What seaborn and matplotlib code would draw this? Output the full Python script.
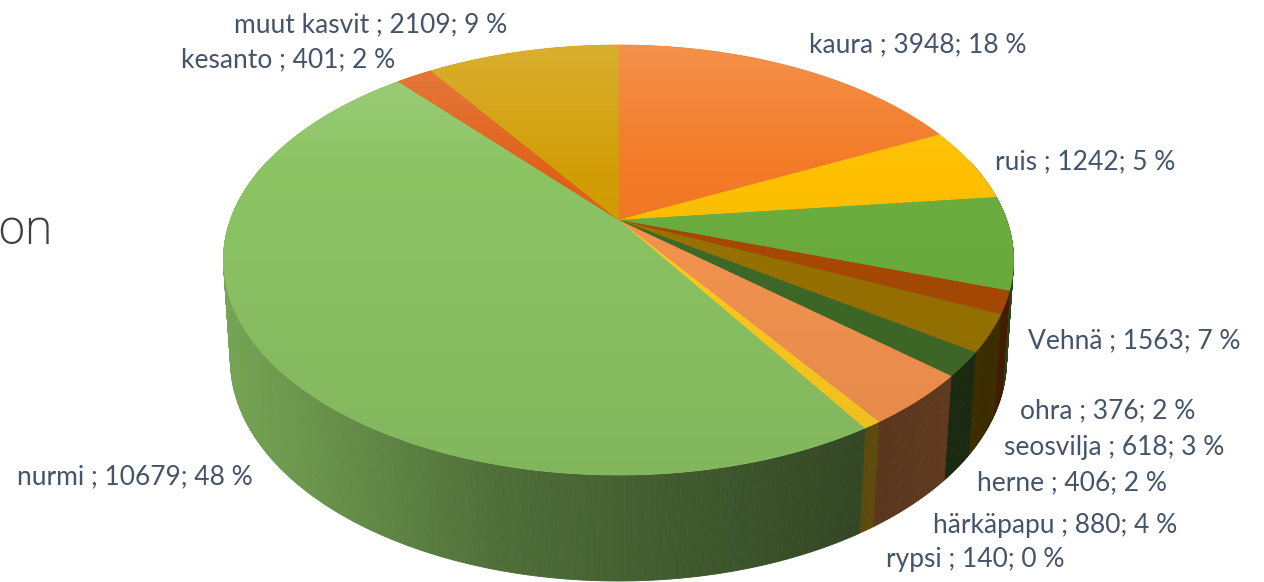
import numpy as np
import seaborn as sns
import matplotlib.pyplot as plt
from matplotlib.collections import PolyCollection
from matplotlib.patches import Polygon

sns.set_theme(style="white")
plt.rcParams["font.family"] = ["Lato", "DejaVu Sans"]

# Data
crops = ["kaura", "ruis", "Vehnä", "ohra", "seosvilja", "herne",
         "härkäpapu", "rypsi", "nurmi", "kesanto", "muut kasvit"]
hectares = [3948, 1242, 1563, 376, 618, 406, 880, 140, 10679, 401, 2109]
shares = [18, 5, 7, 2, 3, 2, 4, 0, 48, 2, 9]
colors = ["#F37A26", "#FFC000", "#6CAE3E", "#A84A05", "#997300", "#3F6A28",
          "#F59450", "#FFCD20", "#8CC464", "#E0621A", "#D29E06"]
label_x = [918, 1085, 1134, 1108, 1114, 1072, 1055, 975, 135, 288, 371]
label_y = [45, 162, 341, 411, 447, 483, 525, 559, 477, 60, 25]


def project(x, y, cx, top, bottom, apex, half_width):
    # perspective view of the unit disc: centre goes to apex, rim to an ellipse
    c = (bottom + top - 2 * apex) / (bottom - top)
    a = top * (1 + c) - apex
    d = half_width * np.sqrt(1 - c ** 2)
    w = 1 + c * y
    return cx + d * x / w, (a * y + apex) / w


def top_view(x, y):
    return project(x, y, 618.5, 45, 475, 220, 395)


def bottom_view(x, y):
    return project(x, y, 618.5, 139, 581, 320, 388)


def top_colors(col, y):
    # lighter towards the back of the pie, slightly darker at the front
    lift = np.interp(y, [45, 170], [0.17, 0.0])[:, None, None]
    dark = np.interp(y, [170, 475], [1.0, 0.93])[:, None, None]
    rgb = np.array(col)[None, None, :]
    return np.clip((rgb + (1 - rgb) * lift) * dark, 0, 1)


def wall_shade(x):
    return np.interp(x, [224, 500, 860, 1015], [0.84, 0.56, 0.36, 0.40])


fig, ax = plt.subplots(figsize=(12.64, 5.82), dpi=100)
palette = sns.color_palette(colors)
wedges, _ = ax.pie(hectares, startangle=90, counterclock=False, colors=palette)
angles = [(w.theta1, w.theta2) for w in wedges]
ax.clear()
ax.set_position([0, 0, 1, 1])

# side wall
quads, quad_colors = [], []
for (t1, t2), col in zip(angles, palette):
    t = np.radians(np.linspace(t1, t2, max(3, int(t2 - t1) * 3)))
    ux, uy = np.cos(t), np.sin(t)
    tx, ty = top_view(ux, uy)
    bx, by = bottom_view(ux, uy)
    for i in range(len(t) - 1):
        if uy[i] > 0.3:
            continue
        quads.append([(tx[i], ty[i]), (tx[i + 1], ty[i + 1]),
                      (bx[i + 1], by[i + 1]), (bx[i], by[i])])
        quad_colors.append(np.array(col) * wall_shade((tx[i] + tx[i + 1]) / 2))
ax.add_collection(PolyCollection(quads, facecolors=quad_colors,
                                 edgecolors=quad_colors, linewidths=0.6, zorder=1))

# top surface, each slice is a gradient clipped to its wedge
for (t1, t2), col in zip(angles, palette):
    t = np.radians(np.linspace(t1, t2, max(3, int(t2 - t1) * 3)))
    ux = np.r_[0, np.cos(t)]
    uy = np.r_[0, np.sin(t)]
    px, py = top_view(ux, uy)
    patch = Polygon(np.c_[px, py], closed=True, facecolor=col, edgecolor=col,
                    linewidth=0.5, zorder=2)
    ax.add_patch(patch)
    rows = np.arange(np.floor(py.min()), np.ceil(py.max()) + 1)
    im = ax.imshow(top_colors(col, rows), extent=(px.min(), px.max(), rows[-1], rows[0]),
                   aspect="auto", zorder=3, interpolation="bilinear")
    im.set_clip_path(patch)

ax.set_xlim(0, 1264)
ax.set_ylim(582, 0)
ax.axis("off")

# labels
for name, value, share, lx, ly in zip(crops, hectares, shares, label_x, label_y):
    ax.text(lx, ly, f"{name} ; {value}; {share} %", color="#44546A", fontsize=19,
            ha="center", va="center", zorder=5)
ax.text(-3, 232, "on", color="#404040", fontsize=34, family="Open Sans",
        weight="light", ha="left", va="center", zorder=5)

plt.savefig("out.png", dpi=100)
